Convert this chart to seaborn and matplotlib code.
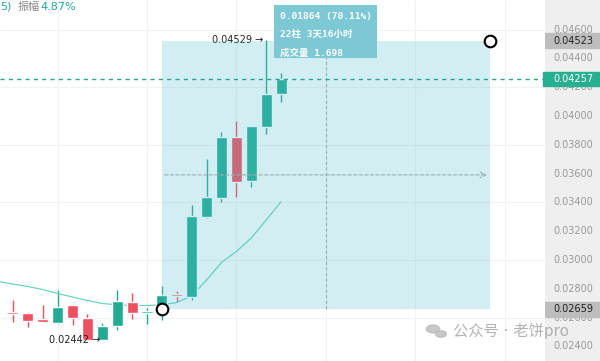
import numpy as np
import pandas as pd
import matplotlib
matplotlib.use("Agg")
import matplotlib.pyplot as plt
from matplotlib.patches import Rectangle, Circle
import seaborn as sns

# candle data
opens = [0.02636, 0.02641, 0.02630, 0.02590, 0.02560, 0.02688, 0.02599, 0.02446, 0.02544, 0.02710,
         0.02630, 0.02676, 0.02764, 0.02745, 0.03296, 0.03429, 0.03852, 0.03551, 0.03926, 0.04151]
highs = [0.02653, 0.02722, 0.02639, 0.02688, 0.02792, 0.02688, 0.02623, 0.02565, 0.02792, 0.02769,
         0.02665, 0.02819, 0.02785, 0.03382, 0.03699, 0.03891, 0.03965, 0.03931, 0.04529, 0.04299]
lows = [0.02625, 0.02567, 0.02537, 0.02567, 0.02554, 0.02549, 0.02446, 0.02442, 0.02514, 0.02590,
        0.02556, 0.02583, 0.02708, 0.02722, 0.03292, 0.03405, 0.03438, 0.03509, 0.03875, 0.04097]
closes = [0.02643, 0.02622, 0.02579, 0.02567, 0.02676, 0.02599, 0.02446, 0.02542, 0.02717, 0.02630,
          0.02648, 0.02757, 0.02750, 0.03308, 0.03440, 0.03852, 0.03544, 0.03931, 0.04153, 0.04257]
ma_line = [0.02851, 0.02833, 0.02816, 0.02795, 0.02767, 0.02743, 0.02719, 0.02698, 0.02688, 0.02684,
           0.02684, 0.02688, 0.02705, 0.02750, 0.02861, 0.02983, 0.03059, 0.03153, 0.03278, 0.03405]

# measure tool
m_start, m_end = 11, 33
m_low, m_high = 0.02659, 0.04523
last_price = 0.04257
y_ticks = [0.024, 0.026, 0.028, 0.030, 0.032, 0.034, 0.036, 0.038, 0.040, 0.042, 0.044, 0.046]
tooltip_lines = ["0.01864 (70.11%)", "22柱 3天16小时", "成交量 1.698"]

GREEN = "#22ab94"
RED = "#ef5060"

df = pd.DataFrame({"i": np.arange(len(opens)), "open": opens, "high": highs,
                   "low": lows, "close": closes, "ma": ma_line})

sns.set_style("white")
plt.rcParams["font.family"] = ["DejaVu Sans", "Noto Sans CJK SC"]

fig = plt.figure(figsize=(6, 3.61), dpi=100)
ax = fig.add_axes([0, 0, 545 / 600, 1])
ylo, yhi = 0.022986, 0.048056
ax.set_ylim(ylo, yhi)
ax.set_xlim(2 / 14.9, 547 / 14.9)

# faint grid
ax.set_xticks([4, 10, 16, 22, 28, 34])
ax.set_yticks([0.026, 0.030, 0.034, 0.038, 0.042, 0.046])
ax.grid(True, color="#f2f2f2", lw=0.8)
ax.tick_params(left=False, bottom=False, labelleft=False, labelbottom=False)
for s in ax.spines.values():
    s.set_visible(False)

# candles
cols = [GREEN if c >= o else RED for o, c in zip(df["open"], df["close"])]
ax.vlines(df["i"], df["low"], df["high"], colors=cols, lw=1, zorder=2)
body_lo = np.minimum(df["open"], df["close"])
body_h = np.maximum(np.abs(df["close"] - df["open"]), 0.00006)
ax.bar(df["i"], body_h, bottom=body_lo, width=0.74, color=cols, zorder=3)

# moving average
sns.lineplot(data=df, x="i", y="ma", color="#6dd3bd", lw=0.9, ax=ax, zorder=2)
ax.set_xlabel("")
ax.set_ylabel("")

# measurement rectangle
ax.add_patch(Rectangle((m_start, m_low), m_end - m_start, m_high - m_low,
                       facecolor="#50bece", alpha=0.25, lw=0, zorder=4))
mid_p = (m_low + m_high) / 2
ax.annotate("", xy=(m_end, mid_p), xytext=(m_start, mid_p), zorder=5,
            arrowprops=dict(arrowstyle="->", color="#9aaeb2", lw=0.8, linestyle=(0, (3, 2))))
ax.plot([(m_start + m_end) / 2] * 2, [m_low, 0.0455], color="#9aaeb2", lw=0.8,
        ls=(0, (3, 2)), zorder=5)

# last price line
ax.axhline(last_price, color="#26a69a", lw=1, ls=(0, (3, 3)), zorder=5)

# tooltip
ax.add_patch(Rectangle((18.52, 0.044028), 6.92, 0.00368, facecolor="#7cc8d4",
                       lw=0, zorder=6))
for t, yy in zip(tooltip_lines, [0.046944, 0.045674, 0.044354]):
    ax.text(18.93, yy, t, color="white", fontsize=6.8, va="center", zorder=7,
            fontweight="bold", family=["DejaVu Sans Mono", "Noto Sans CJK SC"])

# circle handles
ax.scatter([m_start, m_end], [m_low, m_high], s=70, facecolor="white",
           edgecolor="black", lw=1.5, zorder=8)

# high / low labels
ax.text(17.8, 0.04529, "0.04529 \u2192", fontsize=7, ha="right", va="center", color="#222")
ax.text(6.85, 0.02442, "0.02442 \u2192", fontsize=7, ha="right", va="center", color="#222")

# right price axis
ax2 = fig.add_axes([545 / 600, 0, 55 / 600, 1])
ax2.set_facecolor("#efefef")
ax2.set_ylim(ylo, yhi)
ax2.set_xlim(0, 1)
ax2.set_xticks([])
ax2.set_yticks([])
for s in ax2.spines.values():
    s.set_visible(False)
for v in y_ticks:
    ax2.text(0.16, v, f"{v:.5f}", fontsize=7, color="#999999", va="center")

box_h = 0.00104
ax2.axhspan(m_high - box_h / 2, m_high + box_h / 2, color="#bdbdbd", zorder=3)
ax2.text(0.16, m_high, f"{m_high:.5f}", fontsize=7, color="#222", va="center", zorder=4)
ax2.axhspan(m_low - box_h / 2, m_low + box_h / 2, color="#bdbdbd", zorder=3)
ax2.text(0.16, m_low, f"{m_low:.5f}", fontsize=7, color="#222", va="center", zorder=4)
ax2.axhspan(last_price - box_h / 2, last_price + box_h / 2, xmin=-0.04, color="#26b08f",
            zorder=3, clip_on=False)
ax2.text(0.16, last_price, f"{last_price:.5f}", fontsize=7, color="white", va="center", zorder=4)

# header text
fig.text(0.0, 1 - 6.5 / 361, "5)", fontsize=8, color="#26a69a", va="center")
fig.text(17.7 / 600, 1 - 6.5 / 361, "振幅", fontsize=8, color="#888888", va="center")
fig.text(40 / 600, 1 - 6.5 / 361, "4.87%", fontsize=8, color="#26a69a", va="center")

# watermark
fig.patches.append(Circle((433 / 600, 1 - 329 / 361), 0.011, transform=fig.transFigure,
                          color="#bbbbbb", alpha=0.8))
fig.patches.append(Circle((441 / 600, 1 - 334 / 361), 0.009, transform=fig.transFigure,
                          color="#bbbbbb", alpha=0.8))
fig.text(453 / 600, 1 - 331 / 361, "公众号 · 老饼pro", fontsize=11, color="#aaaaaa",
         va="center", alpha=0.9)

plt.savefig("out.png", dpi=100)
